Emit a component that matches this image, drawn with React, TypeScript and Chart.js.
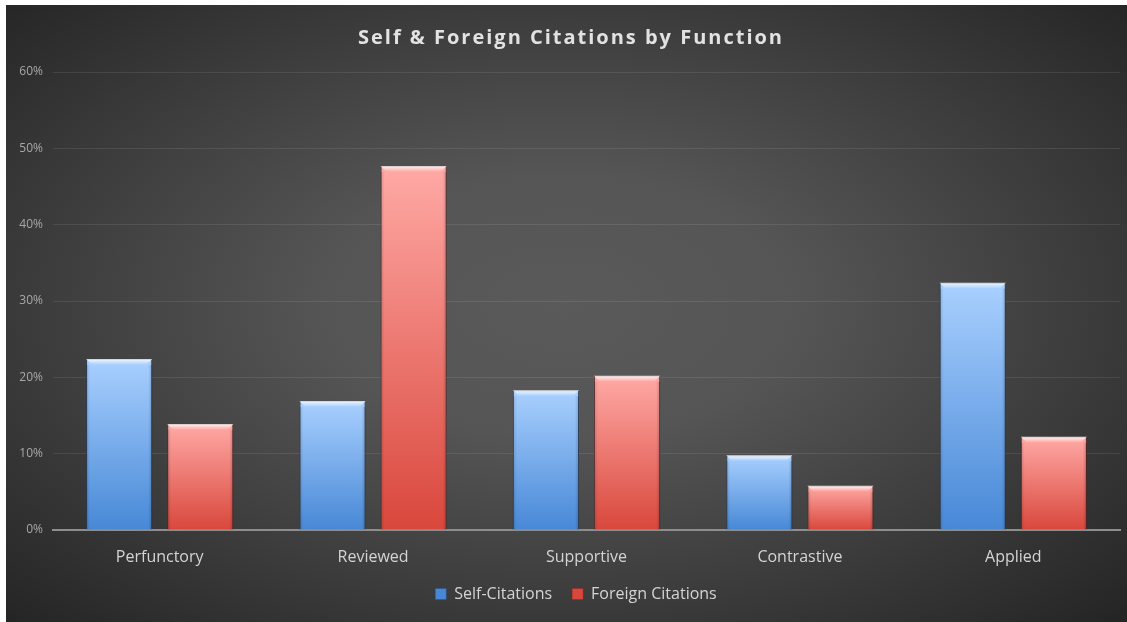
import React, { useEffect, useRef } from "react";
import { Chart, registerables } from "chart.js";

Chart.register(...registerables);

const titleText = "Self & Foreign Citations by Function";
const categories = ["Perfunctory", "Reviewed", "Supportive", "Contrastive", "Applied"];
const seriesNames = ["Self-Citations", "Foreign Citations"];
const selfCitations = [22.4, 16.9, 18.3, 9.8, 32.4];
const foreignCitations = [13.9, 47.7, 20.2, 5.8, 12.2];
const yTickMin = 0;
const yTickMax = 60;
const yTickStep = 10;

const FONT = "'Open Sans', 'DejaVu Sans', sans-serif";

function barFill(top: string, bottom: string, solid: string) {
  return (c: any) => {
    if (c.type !== "data") return solid;
    const ys = c.chart.scales?.y;
    if (!ys || c.raw == null) return solid;
    const t = ys.getPixelForValue(c.raw);
    const b = ys.getPixelForValue(0);
    if (!isFinite(t) || !isFinite(b) || t === b) return solid;
    const g = c.chart.ctx.createLinearGradient(0, t, 0, b);
    g.addColorStop(0, top);
    g.addColorStop(1, bottom);
    return g;
  };
}

const backgroundPlugin = {
  id: "panelBackground",
  beforeDraw(chart: any) {
    const { ctx, width, height } = chart;
    if (chart.legend) chart.legend.left = 26;
    const cx = 556;
    const cy = 300;
    const sy = 0.56;
    ctx.save();
    ctx.translate(cx, cy);
    ctx.scale(1, sy);
    const g = ctx.createRadialGradient(0, 0, 0, 0, 0, 790);
    g.addColorStop(0, "#5a5a5a");
    g.addColorStop(0.3, "#555555");
    g.addColorStop(1, "#252525");
    ctx.fillStyle = g;
    ctx.fillRect(-cx, -cy / sy, width, height / sy);
    ctx.restore();
  },
};

const titlePlugin = {
  id: "spacedTitle",
  afterDraw(chart: any) {
    const { ctx } = chart;
    ctx.save();
    ctx.font = `bold 20px ${FONT}`;
    ctx.fillStyle = "#e2e2e2";
    ctx.textBaseline = "middle";
    ctx.textAlign = "left";
    const target = 424;
    const base = ctx.measureText(titleText).width;
    const spacing = Math.max(0, (target - base) / (titleText.length - 1));
    (ctx as any).letterSpacing = `${spacing}px`;
    const cx = 564;
    ctx.fillText(titleText, cx - target / 2, 33);
    ctx.restore();
  },
};

const bevelPlugin = {
  id: "barBevel",
  afterDatasetsDraw(chart: any) {
    const { ctx } = chart;
    ctx.save();
    chart.data.datasets.forEach((_: any, di: number) => {
      const meta = chart.getDatasetMeta(di);
      meta.data.forEach((bar: any) => {
        const { x, y, width, base } = bar.getProps(["x", "y", "width", "base"], true);
        const l = x - width / 2;
        const r = x + width / 2;
        const h = base - y;
        if (h <= 2) return;
        const d = Math.min(6, h / 2);
        const g = ctx.createLinearGradient(0, y, 0, y + d);
        g.addColorStop(0, "rgba(255,255,255,0.85)");
        g.addColorStop(1, "rgba(255,255,255,0.0)");
        ctx.fillStyle = g;
        ctx.beginPath();
        ctx.moveTo(l, y);
        ctx.lineTo(r, y);
        ctx.lineTo(r - d, y + d);
        ctx.lineTo(l + d, y + d);
        ctx.closePath();
        ctx.fill();
        const sl = ctx.createLinearGradient(l, 0, l + 4, 0);
        sl.addColorStop(0, "rgba(0,0,0,0.15)");
        sl.addColorStop(1, "rgba(0,0,0,0)");
        ctx.fillStyle = sl;
        ctx.fillRect(l, y + d, 4, h - d);
        const sr = ctx.createLinearGradient(r, 0, r - 4, 0);
        sr.addColorStop(0, "rgba(0,0,0,0.2)");
        sr.addColorStop(1, "rgba(0,0,0,0)");
        ctx.fillStyle = sr;
        ctx.fillRect(r - 4, y + d, 4, h - d);
      });
    });
    ctx.restore();
  },
};

export default function App() {
  const canvasRef = useRef<HTMLCanvasElement | null>(null);

  useEffect(() => {
    document.body.style.margin = "0";
    const canvas = canvasRef.current;
    if (!canvas) return;
    const chart = new Chart(canvas, {
      type: "bar",
      data: {
        labels: categories,
        datasets: [
          {
            label: seriesNames[0],
            data: selfCitations,
            backgroundColor: barFill("#a9d0ff", "#4788d6", "#6aa6ee"),
            borderColor: "rgba(40,80,140,0.5)",
            borderWidth: 1,
            categoryPercentage: 0.76,
            barPercentage: 0.815,
          },
          {
            label: seriesNames[1],
            data: foreignCitations,
            backgroundColor: barFill("#ffa9a5", "#d9473c", "#ef6e66"),
            borderColor: "rgba(140,40,40,0.5)",
            borderWidth: 1,
            categoryPercentage: 0.76,
            barPercentage: 0.815,
          },
        ],
      },
      options: {
        animation: false,
        responsive: false,
        maintainAspectRatio: false,
        layout: { padding: { top: 67, right: 7, left: 0, bottom: 10 } },
        plugins: {
          title: { display: false },
          tooltip: { enabled: false },
          legend: {
            display: true,
            position: "bottom",
            labels: {
              color: "#d4d4d4",
              font: { family: FONT, size: 16 },
              boxWidth: 11,
              boxHeight: 11,
              padding: 20,
            },
          },
        },
        scales: {
          x: {
            grid: { display: false, drawTicks: false },
            border: { display: true, color: "#8e8e8e", width: 2 },
            ticks: {
              color: "#d4d4d4",
              font: { family: FONT, size: 16 },
              padding: 18,
            },
            afterFit(scale: any) {
              scale.height = 36;
            },
          },
          y: {
            min: yTickMin,
            max: yTickMax,
            grid: { color: "rgba(255,255,255,0.09)", lineWidth: 1, drawTicks: false },
            border: { display: false },
            ticks: {
              stepSize: yTickStep,
              color: "#a8a8a8",
              font: { family: FONT, size: 12 },
              padding: 10,
              callback: (v: any) => `${v}%`,
            },
            afterFit(scale: any) {
              scale.width = 47;
            },
          },
        },
      },
      plugins: [backgroundPlugin, titlePlugin, bevelPlugin],
    });
    return () => chart.destroy();
  }, []);

  return (
    <div style={{ position: "relative", width: 1127, height: 622, background: "#ffffff", overflow: "hidden" }}>
      <div style={{ position: "absolute", left: 6, top: 5, width: 1121, height: 617 }}>
        <canvas ref={canvasRef} width={1121} height={617} style={{ width: 1121, height: 617, display: "block" }} />
      </div>
    </div>
  );
}
